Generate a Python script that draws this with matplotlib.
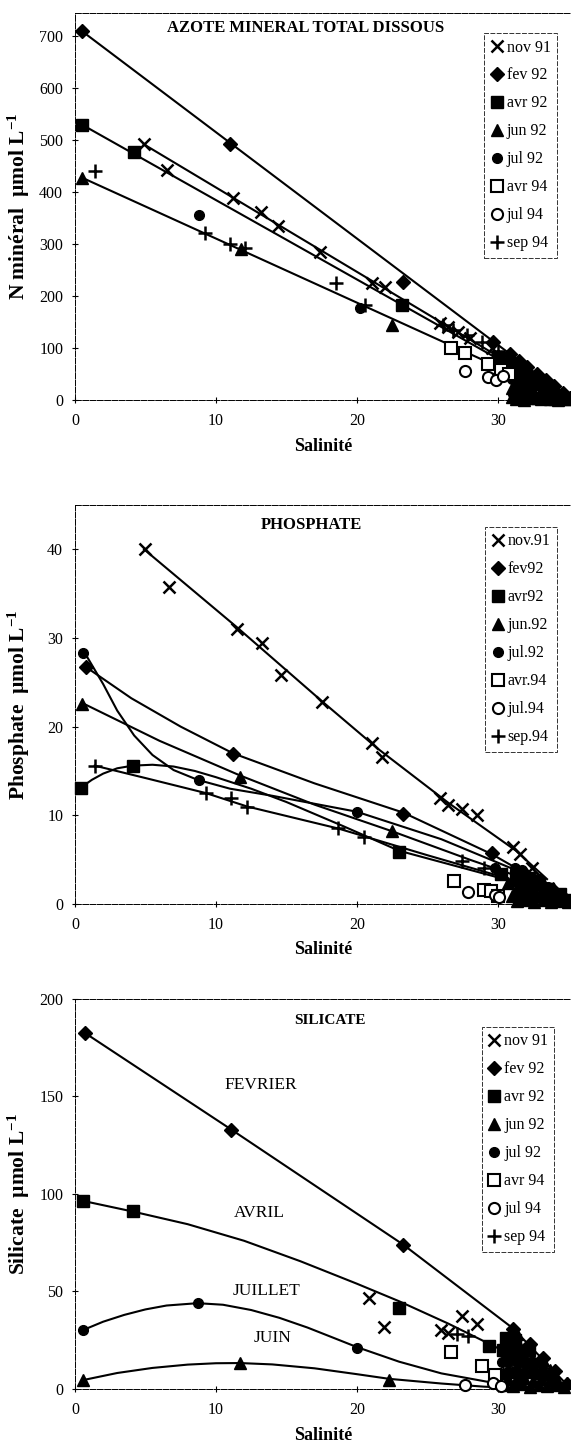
import matplotlib
matplotlib.use('Agg')
import matplotlib.pyplot as plt
from matplotlib.lines import Line2D

plt.rcParams['font.family'] = ['Liberation Serif', 'DejaVu Serif']
plt.rcParams['mathtext.fontset'] = 'custom'
plt.rcParams['mathtext.rm'] = 'Liberation Serif:bold'
plt.rcParams['mathtext.bf'] = 'Liberation Serif:bold'
plt.rcParams['mathtext.it'] = 'Liberation Serif:bold:italic'

# ---------------- AZOTE MINERAL TOTAL DISSOUS (umol/L) ----------------
n_nov91_s = [4.9, 6.5, 11.2, 13.2, 14.4, 17.4, 21.1, 22.0, 25.9, 26.5, 27.2, 28.0, 29.6, 30.4]
n_nov91_v = [492, 443, 388, 362, 335, 284, 225, 218, 148, 140, 130, 120, 100, 85]
n_fev92_s = [0.5, 11.0, 23.3, 29.7, 30.9, 31.5, 32.1, 32.8, 33.4, 34.0, 34.6, 35.1]
n_fev92_v = [710, 492, 227, 112, 88, 76, 64, 50, 38, 26, 14, 4]
n_avr92_s = [0.5, 4.2, 23.2, 30.0, 30.9, 31.5, 32.2, 30.9, 31.6, 32.9]
n_avr92_v = [530, 477, 183, 80, 70, 58, 45, 55, 40, 30]
n_jun92_s = [0.5, 11.8, 22.5, 31.3, 31.9, 32.5, 33.1, 33.7, 34.3, 34.9, 31.7, 32.9, 33.5, 34.1, 34.6, 31.0, 32.2]
n_jun92_v = [428, 290, 144, 2, 0, 3, 1, 2, 0, 1, 11, 9, 10, 8, 6, 24, 24]
# seaward end: dense overlapping stations (jun 92)
n_jun92_end_s = [31.0, 31.6, 32.2, 32.8, 33.4, 34.0, 34.6, 35.1, 31.3, 31.9, 32.5, 33.1, 33.7, 34.3,
                 31.3, 31.9, 32.5, 33.1, 31.3, 31.9, 32.5, 31.2, 31.8]
n_jun92_end_v = [6, 4, 5, 3, 4, 2, 3, 1, 17, 16, 18, 15, 16, 14,
                 32, 31, 33, 30, 47, 46, 45, 62, 60]
n_jul92_s = [8.8, 20.2, 29.9, 31.0, 31.6, 32.3, 33.3, 31.1, 32.4]
n_jul92_v = [357, 177, 45, 40, 26, 28, 20, 12, 12]
n_avr94_s = [26.7, 27.7, 29.3, 30.2, 30.8]
n_avr94_v = [100, 90, 70, 58, 50]
n_jul94_s = [27.7, 29.3, 29.9, 30.4]
n_jul94_v = [55, 44, 38, 47]
n_sep94_s = [1.4, 9.2, 11.0, 12.1, 18.5, 20.6, 26.1, 26.8, 27.8, 28.9, 30.0]
n_sep94_v = [441, 322, 300, 292, 225, 182, 144, 135, 125, 112, 95]

fit_n_fev_s = [0.5, 35.2]
fit_n_fev_v = [710, 0]
fit_n_nov_s = [4.9, 35.2]
fit_n_nov_v = [492, 0]
fit_n_avr_s = [0.5, 35.2]
fit_n_avr_v = [530, 0]
fit_n_jun_s = [0.5, 35.2]
fit_n_jun_v = [428, 0]

# ---------------- PHOSPHATE (umol/L) ----------------
p_nov91_s = [5.0, 6.7, 11.5, 13.3, 14.6, 17.5, 21.1, 21.8, 25.9, 26.5, 27.5, 28.5, 31.1, 31.6, 32.4]
p_nov91_v = [40.0, 35.7, 31.0, 29.4, 25.8, 22.8, 18.1, 16.6, 11.9, 11.2, 10.7, 10.0, 6.4, 5.6, 4.0]
p_fev92_s = [0.8, 11.2, 23.3, 29.6, 32.0, 33.0, 33.9, 34.8]
p_fev92_v = [26.7, 16.9, 10.2, 5.7, 3.3, 2.4, 1.6, 0.6]
p_avr92_s = [0.4, 4.1, 23.0, 31.3, 32.1, 32.9, 33.6, 34.4, 35.1, 30.2]
p_avr92_v = [13.1, 15.6, 5.9, 3.2, 2.9, 2.3, 1.7, 1.1, 0.4, 3.4]
p_jun92_s = [0.5, 11.7, 22.5, 31.4, 32.0, 32.6, 33.2, 33.8, 34.4, 35.0,
             31.3, 31.9, 32.5, 33.1, 33.7, 34.2, 31.2, 31.8, 32.4, 30.0]
p_jun92_v = [22.6, 14.3, 8.2, 0.3, 0.4, 0.2, 0.4, 0.2, 0.3, 0.2,
             1.6, 1.5, 1.6, 1.4, 1.3, 1.0, 2.7, 2.6, 2.5, 1.0]
p_jun92_end_s = [31.0, 31.6, 32.2, 32.8, 33.4, 34.0, 34.6, 35.1, 31.5, 32.1, 32.7, 33.3, 33.9,
                 31.4, 32.0, 32.6, 30.7]
p_jun92_end_v = [0.9, 0.8, 1.0, 0.9, 0.8, 0.7, 0.6, 0.5, 2.1, 2.0, 2.2, 1.9, 1.8,
                 3.4, 3.3, 3.0, 2.4]
p_jul92_s = [0.6, 8.8, 20.0, 29.8, 31.2, 31.7, 32.9, 33.6]
p_jul92_v = [28.3, 14.0, 10.4, 4.1, 4.0, 3.8, 2.8, 1.9]
p_avr94_s = [26.9, 29.0, 29.5, 30.0]
p_avr94_v = [2.6, 1.6, 1.5, 0.9]
p_jul94_s = [27.9, 29.8, 30.1]
p_jul94_v = [1.3, 1.0, 0.8]
p_sep94_s = [1.4, 9.3, 11.1, 12.2, 18.7, 20.5, 27.5, 29.0, 31.5]
p_sep94_v = [15.6, 12.5, 11.9, 10.9, 8.6, 7.6, 4.8, 4.0, 2.6]

fit_p_nov_s = [4.9, 11.5, 17.5, 21.5, 26.5, 31.3, 33.5]
fit_p_nov_v = [40.0, 31.2, 22.9, 17.5, 11.4, 6.0, 2.8]
fit_p_fev_s = [0.8, 4.0, 7.5, 11.2, 17.0, 23.3, 29.6, 33.0, 35.0]
fit_p_fev_v = [26.7, 23.2, 20.0, 17.0, 13.6, 10.3, 5.6, 2.5, 0.5]
fit_p_jun_s = [0.6, 6.0, 11.7, 17.0, 22.5, 28.0, 32.0, 35.0]
fit_p_jun_v = [22.6, 18.4, 14.5, 11.2, 8.2, 5.0, 2.8, 0.5]
fit_p_jul_s = [0.7, 2.0, 3.0, 4.2, 5.5, 7.0, 8.7, 11.0, 14.0, 20.0, 26.0, 31.0, 35.0]
fit_p_jul_v = [28.3, 24.8, 21.8, 19.0, 16.8, 15.1, 14.0, 13.0, 12.2, 10.4, 7.3, 4.0, 0.5]
fit_p_avr_s = [0.4, 1.2, 2.0, 3.0, 4.1, 5.5, 7.0, 8.5, 10.0, 12.5, 15.0, 19.0, 23.0, 30.0, 35.0]
fit_p_avr_v = [13.1, 14.0, 14.7, 15.3, 15.6, 15.7, 15.5, 15.0, 14.3, 13.0, 11.5, 8.8, 6.0, 3.0, 0.5]
fit_p_sep_s = [1.4, 5.0, 9.3, 12.2, 18.7, 25.0, 30.0, 35.0]
fit_p_sep_v = [15.6, 14.2, 12.5, 11.0, 8.5, 5.5, 3.2, 0.5]

# ---------------- SILICATE (umol/L) ----------------
si_nov91_s = [20.9, 21.9, 26.0, 26.5, 27.5, 28.5, 31.0, 31.6, 32.2]
si_nov91_v = [46.7, 32.0, 30.0, 28.5, 37.5, 33.5, 20.0, 16.0, 12.0]
si_fev92_s = [0.7, 11.1, 23.3, 31.1, 32.3, 33.2, 34.1, 34.9]
si_fev92_v = [182.6, 133.0, 74.0, 31.0, 23.0, 16.0, 9.0, 2.5]
si_avr92_s = [0.6, 4.1, 23.0, 29.4, 30.6, 31.2, 30.4, 31.0, 31.6, 32.2]
si_avr92_v = [96.4, 91.5, 41.5, 22.0, 26.0, 25.0, 20.0, 20.5, 19.5, 20.0]
si_jun92_s = [0.6, 11.7, 22.3, 30.5, 31.1, 31.7, 32.3, 32.9, 33.5, 34.1, 34.7,
              30.4, 31.0, 31.6, 32.2, 32.8, 33.4, 34.0]
si_jun92_v = [4.6, 13.3, 4.8, 2.0, 1.5, 2.5, 1.0, 2.0, 1.5, 2.0, 1.0,
              8.0, 8.5, 7.5, 8.5, 8.0, 7.5, 7.0]
si_jun92_end_s = [30.7, 31.3, 31.9, 32.5, 33.1, 33.7, 34.3, 34.9, 30.7, 31.3, 31.9, 32.5, 33.1, 33.7,
                  30.6, 31.2, 31.8, 32.4, 33.0, 30.9, 31.5, 32.0, 31.4]
si_jun92_end_v = [5.0, 4.5, 5.5, 4.0, 5.0, 4.5, 3.5, 3.0, 11.0, 11.5, 10.5, 11.0, 10.0, 9.5,
                  17.0, 17.5, 16.5, 16.0, 15.0, 23.0, 22.5, 21.5, 28.0]
si_jul92_s = [0.6, 8.7, 20.0, 29.8, 30.3, 30.9, 31.5, 32.1, 32.7, 33.2]
si_jul92_v = [30.3, 44.2, 21.0, 3.0, 14.0, 14.5, 13.5, 14.0, 13.5, 12.5]
si_avr94_s = [26.7, 28.9, 29.8]
si_avr94_v = [19.0, 12.0, 7.0]
si_jul94_s = [27.7, 29.7, 30.2]
si_jul94_v = [2.0, 3.0, 1.5]
si_sep94_s = [27.1, 27.9, 31.2, 32.0]
si_sep94_v = [28.0, 27.0, 18.0, 13.0]

fit_si_fev_s = [0.7, 11.1, 23.3, 31.1, 35.2]
fit_si_fev_v = [182.6, 133.0, 74.0, 31.0, 0.0]
fit_si_avr_s = [0.6, 4.1, 8.0, 12.0, 16.0, 20.0, 23.0, 26.5, 30.0, 35.2]
fit_si_avr_v = [96.4, 91.0, 84.5, 76.0, 65.5, 54.0, 45.0, 33.5, 21.0, 0.0]
fit_si_jul_s = [0.6, 2.0, 3.5, 5.0, 6.5, 8.7, 10.5, 12.5, 14.5, 16.5, 18.5, 20.0, 23.0, 26.0, 29.8, 33.0]
fit_si_jul_v = [30.3, 34.5, 38.0, 40.8, 42.8, 44.0, 43.2, 40.5, 36.5, 31.5, 25.8, 21.5, 14.0, 8.0, 3.0, 0.5]
fit_si_jun_s = [0.6, 3.0, 5.5, 8.0, 10.0, 11.7, 14.0, 17.0, 20.0, 22.3, 26.0, 29.0, 32.0]
fit_si_jun_v = [4.6, 8.2, 10.8, 12.5, 13.2, 13.3, 12.6, 10.6, 7.6, 5.2, 2.8, 1.2, 0.3]

si_label_text = ['FEVRIER', 'AVRIL', 'JUILLET', 'JUIN']
si_label_s = [13.2, 13.1, 13.6, 14.0]
si_label_v = [156, 90, 50, 26]

ticks_s = [0, 10, 20, 30]

# marker styles for the eight surveys
st_nov = dict(marker='x', ms=9, mew=1.8, color='black')
st_fev = dict(marker='D', ms=7, color='black')
st_avr = dict(marker='s', ms=8, color='black')
st_jun = dict(marker='^', ms=9, color='black')
st_jul = dict(marker='o', ms=7, color='black')
st_avr94 = dict(marker='s', ms=8, mfc='white', mec='black', mew=1.5)
st_jul94 = dict(marker='o', ms=8, mfc='white', mec='black', mew=1.5)
st_sep = dict(marker='+', ms=10, mew=1.8, color='black')
styles = [st_nov, st_fev, st_avr, st_jun, st_jul, st_avr94, st_jul94, st_sep]


def setup_axes(ax, ymax, yticks, ylabel, title, tx, ty, tsize):
    ax.set_xlim(0, 35.2)
    ax.set_ylim(0, ymax)
    ax.set_xticks(ticks_s)
    ax.set_yticks(yticks)
    ax.tick_params(direction='inout', length=5, width=0.8, labelsize=11.5)
    ax.tick_params(axis='y', pad=6)
    ax.tick_params(axis='x', pad=7)
    for side in ['left', 'top', 'bottom']:
        ax.spines[side].set_linestyle((0, (6, 1.5)))
        ax.spines[side].set_linewidth(0.7)
    ax.spines['right'].set_visible(False)
    ax.set_xlabel('Salinité', fontsize=13, fontweight='bold', labelpad=6)
    ax.set_ylabel(ylabel, fontsize=15.5, fontweight='bold')
    ax.yaxis.set_label_coords(-0.087, 0.5)
    ax.text(tx, ty, title, transform=ax.transAxes, ha='center', va='center',
            fontsize=tsize, fontweight='bold')


def add_legend(ax, labels, bx, by):
    handles = [Line2D([], [], linestyle='none', **st) for st in styles]
    leg = ax.legend(handles, labels, loc='upper left', bbox_to_anchor=(bx, by),
                    borderaxespad=0, fontsize=11.5, frameon=True, fancybox=False,
                    handlelength=0.8, handletextpad=0.2, labelspacing=0.75,
                    borderpad=0.4, edgecolor='black')
    leg.get_frame().set_linewidth(0.7)
    leg.get_frame().set_linestyle((0, (5, 1.5)))
    leg.set_zorder(5)


def draw_points(ax, series):
    for (s, v), st in zip(series, styles):
        ax.plot(s, v, linestyle='none', clip_on=False, zorder=3, **st)


fig = plt.figure(figsize=(5.71, 14.44), dpi=100)
ax1 = fig.add_axes([0.1313, 0.7230, 0.8687, 0.2680])
ax2 = fig.add_axes([0.1313, 0.3740, 0.8687, 0.2763])
ax3 = fig.add_axes([0.1313, 0.0381, 0.8687, 0.2701])

# ---- panel 1 : azote ----
for fs, fv in [(fit_n_fev_s, fit_n_fev_v), (fit_n_nov_s, fit_n_nov_v),
               (fit_n_avr_s, fit_n_avr_v), (fit_n_jun_s, fit_n_jun_v)]:
    ax1.plot(fs, fv, color='black', lw=1.5, zorder=2)
ax1.plot(n_jun92_end_s, n_jun92_end_v, linestyle='none', clip_on=False, zorder=3, **st_jun)
draw_points(ax1, [(n_nov91_s, n_nov91_v), (n_fev92_s, n_fev92_v), (n_avr92_s, n_avr92_v),
                  (n_jun92_s, n_jun92_v), (n_jul92_s, n_jul92_v), (n_avr94_s, n_avr94_v),
                  (n_jul94_s, n_jul94_v), (n_sep94_s, n_sep94_v)])
setup_axes(ax1, 745, [0, 100, 200, 300, 400, 500, 600, 700],
           r'N minéral  µmol L$^{-1}$', 'AZOTE MINERAL TOTAL DISSOUS', 0.464, 0.961, 12)
add_legend(ax1, ['nov 91', 'fev 92', 'avr 92', 'jun 92', 'jul 92', 'avr 94', 'jul 94', 'sep 94'],
           0.825, 0.948)

# ---- panel 2 : phosphate ----
for fs, fv in [(fit_p_nov_s, fit_p_nov_v), (fit_p_fev_s, fit_p_fev_v), (fit_p_jun_s, fit_p_jun_v),
               (fit_p_jul_s, fit_p_jul_v), (fit_p_avr_s, fit_p_avr_v), (fit_p_sep_s, fit_p_sep_v)]:
    ax2.plot(fs, fv, color='black', lw=1.5, zorder=2)
ax2.plot(p_jun92_end_s, p_jun92_end_v, linestyle='none', clip_on=False, zorder=3, **st_jun)
draw_points(ax2, [(p_nov91_s, p_nov91_v), (p_fev92_s, p_fev92_v), (p_avr92_s, p_avr92_v),
                  (p_jun92_s, p_jun92_v), (p_jul92_s, p_jul92_v), (p_avr94_s, p_avr94_v),
                  (p_jul94_s, p_jul94_v), (p_sep94_s, p_sep94_v)])
setup_axes(ax2, 45, [0, 10, 20, 30, 40],
           r'Phosphate  µmol L$^{-1}$', 'PHOSPHATE', 0.476, 0.949, 12)
add_legend(ax2, ['nov.91', 'fev92', 'avr92', 'jun.92', 'jul.92', 'avr.94', 'jul.94', 'sep.94'],
           0.827, 0.945)

# ---- panel 3 : silicate ----
for fs, fv in [(fit_si_fev_s, fit_si_fev_v), (fit_si_avr_s, fit_si_avr_v),
               (fit_si_jul_s, fit_si_jul_v), (fit_si_jun_s, fit_si_jun_v)]:
    ax3.plot(fs, fv, color='black', lw=1.5, zorder=2)
ax3.plot(si_jun92_end_s, si_jun92_end_v, linestyle='none', clip_on=False, zorder=3, **st_jun)
draw_points(ax3, [(si_nov91_s, si_nov91_v), (si_fev92_s, si_fev92_v), (si_avr92_s, si_avr92_v),
                  (si_jun92_s, si_jun92_v), (si_jul92_s, si_jul92_v), (si_avr94_s, si_avr94_v),
                  (si_jul94_s, si_jul94_v), (si_sep94_s, si_sep94_v)])
for txt, s, v in zip(si_label_text, si_label_s, si_label_v):
    ax3.text(s, v, txt, ha='center', va='center', fontsize=12.5)
setup_axes(ax3, 200, [0, 50, 100, 150, 200],
           r'Silicate  µmol L$^{-1}$', 'SILICATE', 0.514, 0.946, 11)
add_legend(ax3, ['nov 91', 'fev 92', 'avr 92', 'jun 92', 'jul 92', 'avr 94', 'jul 94', 'sep 94'],
           0.82, 0.928)

fig.savefig('out.png', dpi=100)
